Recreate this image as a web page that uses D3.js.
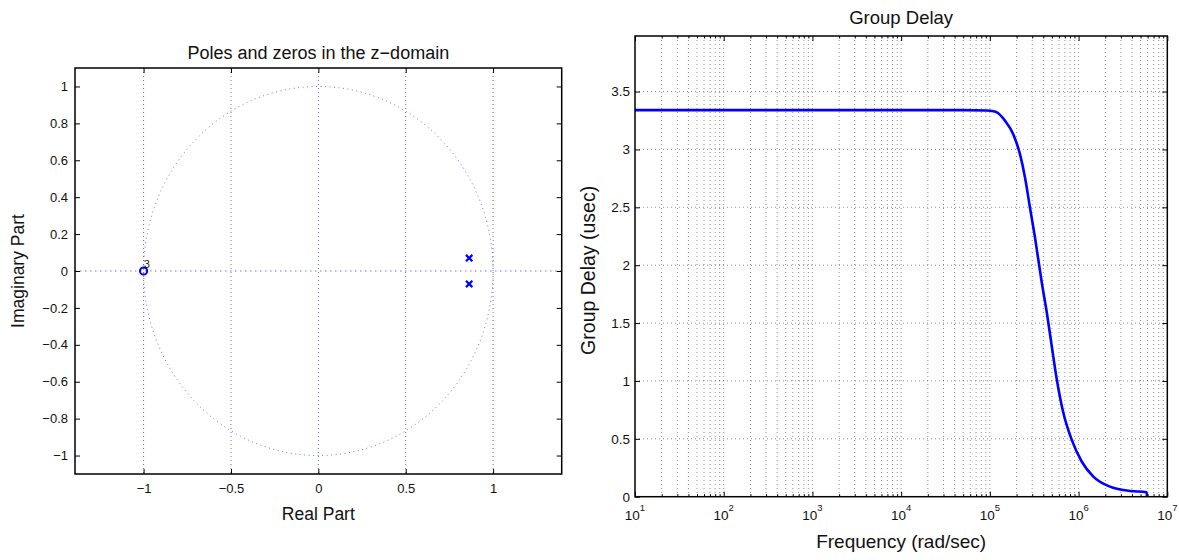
<!DOCTYPE html>
<html>
<head>
<meta charset="utf-8">
<script src="https://cdn.jsdelivr.net/npm/d3@7"></script>
<style>
  html, body { margin: 0; padding: 0; background: #fff; }
  svg { display: block; font-family: "Liberation Sans", Arial, Helvetica, sans-serif; }
  text { fill: #111; }
</style>
</head>
<body>
<svg id="chart" width="1179" height="560"></svg>
<script>
// ---- pole/zero plot data ----
const zeroRe = [-1];
const zeroIm = [0];
const zeroMultiplicity = ["3"];
const poleRe = [0.863, 0.863];
const poleIm = [0.07, -0.07];
const pzXTicks = [-1, -0.5, 0, 0.5, 1];
const pzYTicks = [-1, -0.8, -0.6, -0.4, -0.2, 0, 0.2, 0.4, 0.6, 0.8, 1];

// ---- group delay data (frequency in rad/sec, delay in usec) ----
const gdFreq = [10, 100, 1e3, 1e4, 5e4, 9.2e4, 1.1e5, 1.2e5, 1.486e5, 1.84e5, 2.188e5, 2.495e5,
  2.838e5, 3.236e5, 3.846e5, 4.375e5, 4.977e5, 5.675e5, 6.73e5, 8.356e5, 1.084e6, 1.466e6,
  2.26e6, 3.8e6, 5.85e6, 5.9e6];
const gdDelay = [3.34, 3.34, 3.34, 3.34, 3.34, 3.337, 3.33, 3.32, 3.247, 3.13, 2.957, 2.754,
  2.493, 2.232, 1.85, 1.595, 1.304, 1.015, 0.725, 0.493, 0.304, 0.174,
  0.087, 0.05, 0.038, 0];
const gdYTicks = [0, 0.5, 1, 1.5, 2, 2.5, 3, 3.5];
const gdXDecades = [1, 2, 3, 4, 5, 6, 7];

const svg = d3.select("#chart");
const fmt = d3.format("");
const tickLen = 5;

// ================= Poles and zeros =================
const pz = { left: 75, right: 561.7, top: 68, bottom: 474 };
const px = d3.scaleLinear().domain([-1.3925, 1.3925]).range([pz.left, pz.right]);
const py = d3.scaleLinear().domain([-1.1, 1.1]).range([pz.bottom, pz.top]);
const gPz = svg.append("g");

// vertical grid lines at the x ticks
gPz.selectAll("line.grid").data(pzXTicks.filter(d => d !== 0)).join("line")
  .attr("x1", d => px(d)).attr("x2", d => px(d))
  .attr("y1", pz.top).attr("y2", pz.bottom)
  .attr("stroke", "#000").attr("stroke-opacity", 0.6)
  .attr("stroke-width", 0.9).attr("stroke-dasharray", "1,3");

// real and imaginary axes
gPz.append("line").attr("x1", pz.left).attr("x2", pz.right)
  .attr("y1", py(0)).attr("y2", py(0))
  .attr("stroke", "#0000ff").attr("stroke-opacity", 0.55)
  .attr("stroke-width", 1).attr("stroke-dasharray", "1.5,3.5");
gPz.append("line").attr("x1", px(0)).attr("x2", px(0))
  .attr("y1", pz.top).attr("y2", pz.bottom)
  .attr("stroke", "#0000ff").attr("stroke-opacity", 0.6)
  .attr("stroke-width", 1).attr("stroke-dasharray", "1,3");

// unit circle
const circlePts = d3.range(0, 361, 2).map(a => [Math.cos(a * Math.PI / 180), Math.sin(a * Math.PI / 180)]);
gPz.append("path")
  .attr("d", d3.line().x(d => px(d[0])).y(d => py(d[1]))(circlePts))
  .attr("fill", "none").attr("stroke", "#0000ff").attr("stroke-opacity", 0.55)
  .attr("stroke-width", 1).attr("stroke-dasharray", "1,3.5");

// zeros
gPz.selectAll("circle.zero").data(zeroRe).join("circle")
  .attr("cx", d => px(d)).attr("cy", (d, i) => py(zeroIm[i])).attr("r", 3.6)
  .attr("fill", "none").attr("stroke", "#0000ff").attr("stroke-width", 2);
gPz.selectAll("text.mult").data(zeroRe).join("text")
  .attr("x", d => px(d) + 0.5).attr("y", (d, i) => py(zeroIm[i]) - 3.5)
  .attr("font-size", 10.5).text((d, i) => zeroMultiplicity[i]);

// poles
const xs = 3.2;
gPz.selectAll("path.pole").data(poleRe).join("path")
  .attr("d", (d, i) => {
    const cx = px(d), cy = py(poleIm[i]);
    return `M${cx - xs},${cy - xs}L${cx + xs},${cy + xs}M${cx - xs},${cy + xs}L${cx + xs},${cy - xs}`;
  })
  .attr("stroke", "#0000ff").attr("stroke-width", 2.2).attr("fill", "none");

// axes box and ticks
gPz.append("rect").attr("x", pz.left).attr("y", pz.top)
  .attr("width", pz.right - pz.left).attr("height", pz.bottom - pz.top)
  .attr("fill", "none").attr("stroke", "#000").attr("stroke-width", 1.5);
gPz.append("g").attr("transform", `translate(0,${pz.bottom})`)
  .call(d3.axisBottom(px).tickValues(pzXTicks).tickSize(-tickLen).tickPadding(10).tickFormat(fmt))
  .call(g => g.select(".domain").remove());
gPz.append("g").attr("transform", `translate(0,${pz.top})`)
  .call(d3.axisTop(px).tickValues(pzXTicks).tickSize(-tickLen).tickFormat(""))
  .call(g => g.select(".domain").remove());
gPz.append("g").attr("transform", `translate(${pz.left},0)`)
  .call(d3.axisLeft(py).tickValues(pzYTicks).tickSize(-tickLen).tickPadding(7).tickFormat(fmt))
  .call(g => g.select(".domain").remove());
gPz.append("g").attr("transform", `translate(${pz.right},0)`)
  .call(d3.axisRight(py).tickValues(pzYTicks).tickSize(-tickLen).tickFormat(""))
  .call(g => g.select(".domain").remove());
gPz.selectAll(".tick text").attr("font-size", 13).attr("fill", "#111")
  .attr("font-family", "Liberation Sans, Arial, sans-serif");
gPz.selectAll(".tick line").attr("stroke", "#000").attr("stroke-width", 1);

gPz.append("text").attr("x", (pz.left + pz.right) / 2).attr("y", 59)
  .attr("text-anchor", "middle").attr("font-size", 18).text("Poles and zeros in the z\u2212domain");
gPz.append("text").attr("x", (pz.left + pz.right) / 2).attr("y", 520)
  .attr("text-anchor", "middle").attr("font-size", 17.5).text("Real Part");
gPz.append("text").attr("transform", `translate(24,${(pz.top + pz.bottom) / 2}) rotate(-90)`)
  .attr("text-anchor", "middle").attr("font-size", 17.5).text("Imaginary Part");

// ================= Group delay =================
const gd = { left: 635, right: 1167.3, top: 36, bottom: 496.7 };
const gx = d3.scaleLog().domain([10, 1e7]).range([gd.left, gd.right]);
const gy = d3.scaleLinear().domain([0, 3.98]).range([gd.bottom, gd.top]);
const gGd = svg.append("g");

const majorX = gdXDecades.map(e => Math.pow(10, e));
const minorX = [];
gdXDecades.slice(0, -1).forEach(e => {
  for (let m = 2; m <= 9; m++) minorX.push(m * Math.pow(10, e));
});

// grid
gGd.selectAll("line.vgrid").data(majorX.concat(minorX).filter(d => d > 10 && d < 1e7)).join("line")
  .attr("x1", d => gx(d)).attr("x2", d => gx(d))
  .attr("y1", gd.top).attr("y2", gd.bottom)
  .attr("stroke", "#000").attr("stroke-opacity", 0.55)
  .attr("stroke-width", 0.8).attr("stroke-dasharray", "1,3");
gGd.selectAll("line.hgrid").data(gdYTicks.filter(d => d > 0)).join("line")
  .attr("x1", gd.left).attr("x2", gd.right)
  .attr("y1", d => gy(d)).attr("y2", d => gy(d))
  .attr("stroke", "#000").attr("stroke-opacity", 0.55)
  .attr("stroke-width", 0.8).attr("stroke-dasharray", "1,3");

// delay curve
gGd.append("path")
  .attr("d", d3.line().x((d, i) => gx(gdFreq[i])).y(d => gy(d)).curve(d3.curveMonotoneX)(gdDelay))
  .attr("fill", "none").attr("stroke", "#0000ff").attr("stroke-width", 2.6)
  .attr("stroke-linejoin", "round");

// box and ticks
gGd.append("rect").attr("x", gd.left).attr("y", gd.top)
  .attr("width", gd.right - gd.left).attr("height", gd.bottom - gd.top)
  .attr("fill", "none").attr("stroke", "#000").attr("stroke-width", 1.5);
gGd.append("g").attr("transform", `translate(0,${gd.bottom})`)
  .call(d3.axisBottom(gx).tickValues(majorX).tickSize(-tickLen).tickFormat(""))
  .call(g => g.select(".domain").remove());
gGd.append("g").attr("transform", `translate(0,${gd.top})`)
  .call(d3.axisTop(gx).tickValues(majorX).tickSize(-tickLen).tickFormat(""))
  .call(g => g.select(".domain").remove());
gGd.append("g").attr("transform", `translate(0,${gd.bottom})`)
  .call(d3.axisBottom(gx).tickValues(minorX).tickSize(-2.5).tickFormat(""))
  .call(g => g.select(".domain").remove());
gGd.append("g").attr("transform", `translate(0,${gd.top})`)
  .call(d3.axisTop(gx).tickValues(minorX).tickSize(-2.5).tickFormat(""))
  .call(g => g.select(".domain").remove());
gGd.append("g").attr("transform", `translate(${gd.left},0)`)
  .call(d3.axisLeft(gy).tickValues(gdYTicks).tickSize(-tickLen).tickPadding(5).tickFormat(fmt))
  .call(g => g.select(".domain").remove());
gGd.append("g").attr("transform", `translate(${gd.right},0)`)
  .call(d3.axisRight(gy).tickValues(gdYTicks).tickSize(-tickLen).tickFormat(""))
  .call(g => g.select(".domain").remove());
gGd.selectAll(".tick text").attr("font-size", 13.5).attr("fill", "#111")
  .attr("font-family", "Liberation Sans, Arial, sans-serif");
gGd.selectAll(".tick line").attr("stroke", "#000").attr("stroke-width", 1);

// decade labels as 10 with superscript exponent
const decLabels = gGd.selectAll("text.dec").data(gdXDecades.map(e => [e])).join("text")
  .attr("x", d => gx(Math.pow(10, d[0]))).attr("y", 520)
  .attr("text-anchor", "middle").attr("font-size", 13.5);
decLabels.append("tspan").text("10");
decLabels.append("tspan").attr("dy", -9).attr("font-size", 9.5).text(d => d[0]);

gGd.append("text").attr("x", (gd.left + gd.right) / 2).attr("y", 24)
  .attr("text-anchor", "middle").attr("font-size", 18.5).text("Group Delay");
gGd.append("text").attr("x", (gd.left + gd.right) / 2).attr("y", 548)
  .attr("text-anchor", "middle").attr("font-size", 19).text("Frequency (rad/sec)");
gGd.append("text").attr("transform", `translate(595,${(gd.top + gd.bottom) / 2 + 4}) rotate(-90)`)
  .attr("text-anchor", "middle").attr("font-size", 19.5).text("Group Delay (usec)");
</script>
</body>
</html>
